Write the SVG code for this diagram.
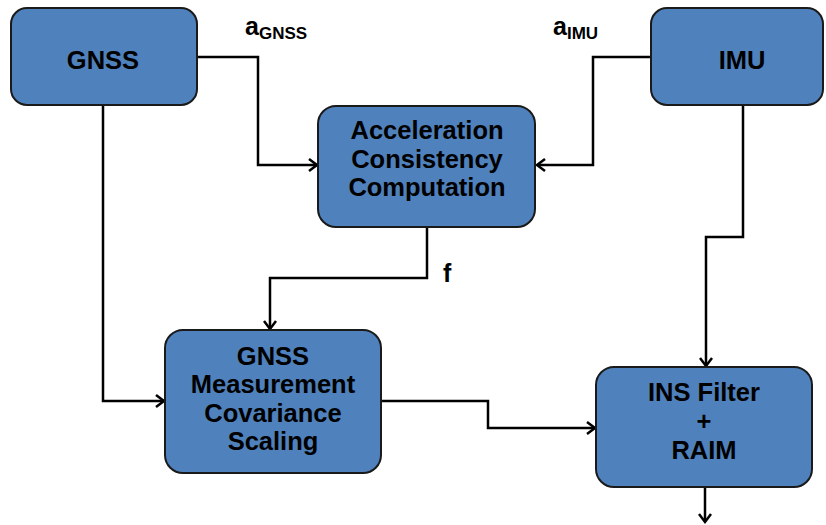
<svg xmlns="http://www.w3.org/2000/svg" width="826" height="525" viewBox="0 0 826 525">
<defs>
<style>
.box{fill:#4F81BD;stroke:#1a1a1a;stroke-width:2}
.t{font-family:"Liberation Sans",Arial,sans-serif;font-weight:bold;font-size:25.5px;fill:#000;text-anchor:middle}
.lbl{font-family:"Liberation Sans",Arial,sans-serif;font-weight:bold;fill:#000}
.ln{fill:none;stroke:#000;stroke-width:2.5}
</style>
<marker id="ah" markerWidth="14" markerHeight="14" refX="11" refY="7" orient="auto" markerUnits="userSpaceOnUse">
<path d="M3,1 L11,7 L3,13" fill="none" stroke="#000" stroke-width="2.5"/>
</marker>
</defs>
<rect width="826" height="525" fill="#fff"/>
<g id="connectors">
<polyline class="ln" points="197,57 258,57 258,165 317,165" marker-end="url(#ah)"/>
<polyline class="ln" points="651,57 593,57 593,165 537,165" marker-end="url(#ah)"/>
<polyline class="ln" points="427,227 427,278 270,278 270,329" marker-end="url(#ah)"/>
<polyline class="ln" points="103,105 103,401 164,401" marker-end="url(#ah)"/>
<polyline class="ln" points="381,401 488,401 488,428 595,428" marker-end="url(#ah)"/>
<polyline class="ln" points="743,105 743,237 706,237 706,366" marker-end="url(#ah)"/>
<polyline class="ln" points="705,488 705,522" marker-end="url(#ah)"/>
<text class="lbl" x="245" y="35" font-size="25">a<tspan font-size="17" dy="4">GNSS</tspan></text>
<text class="lbl" x="553" y="35" font-size="25">a<tspan font-size="17" dy="4">IMU</tspan></text>
<text class="lbl" x="443" y="282" font-size="25">f</text>
</g>
<g id="gnss">
<rect class="box" x="11" y="8" width="186" height="97" rx="16"/>
<text class="t" x="103" y="69">GNSS</text>
</g>
<g id="imu">
<rect class="box" x="651" y="8" width="172" height="97" rx="16"/>
<text class="t" x="742" y="69">IMU</text>
</g>
<g id="acc">
<rect class="box" x="318" y="106" width="217" height="121" rx="18"/>
<text class="t" x="427" y="139">Acceleration</text>
<text class="t" x="427" y="168">Consistency</text>
<text class="t" x="427" y="196">Computation</text>
</g>
<g id="mcs">
<rect class="box" x="165" y="330" width="216" height="143" rx="18"/>
<text class="t" x="273" y="365">GNSS</text>
<text class="t" x="273" y="393">Measurement</text>
<text class="t" x="273" y="422">Covariance</text>
<text class="t" x="273" y="450">Scaling</text>
</g>
<g id="ins">
<rect class="box" x="596" y="367" width="216" height="120" rx="18"/>
<text class="t" x="704" y="401">INS Filter</text>
<text class="t" x="704" y="430">+</text>
<text class="t" x="704" y="459">RAIM</text>
</g>
</svg>
